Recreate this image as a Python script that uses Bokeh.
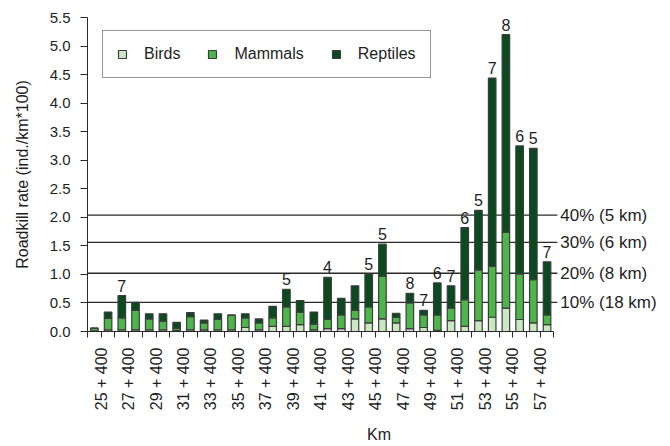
from bokeh.plotting import figure
from bokeh.models import (ColumnDataSource, Range1d, FixedTicker, PrintfTickFormatter,
                          Legend, LegendItem, LabelSet)
from bokeh.core.properties import value
from bokeh.embed import file_html
from bokeh.resources import INLINE

# ---------------- data ----------------
km_labels = ["25 + 400", "27 + 400", "29 + 400", "31 + 400", "33 + 400", "35 + 400",
             "37 + 400", "39 + 400", "41 + 400", "43 + 400", "45 + 400", "47 + 400",
             "49 + 400", "51 + 400", "53 + 400", "55 + 400", "57 + 400"]

birds = [0.01, 0.03, 0.03, 0.03, 0.03, 0.03, 0.02, 0.03, 0.03, 0.03, 0.03, 0.07,
         0.03, 0.09, 0.09, 0.12, 0.03, 0.05, 0.05, 0.22, 0.15, 0.22, 0.15, 0.05,
         0.07, 0.02, 0.19, 0.09, 0.19, 0.25, 0.41, 0.21, 0.15, 0.12]
mammals = [0.05, 0.20, 0.21, 0.34, 0.19, 0.15, 0.04, 0.23, 0.12, 0.18, 0.25, 0.17,
           0.12, 0.15, 0.34, 0.22, 0.10, 0.16, 0.24, 0.15, 0.28, 0.75, 0.10, 0.45,
           0.22, 0.27, 0.22, 0.47, 0.89, 0.89, 1.33, 0.80, 0.76, 0.17]
reptiles = [0.00, 0.11, 0.39, 0.14, 0.09, 0.13, 0.10, 0.07, 0.05, 0.10, 0.01, 0.07,
            0.07, 0.20, 0.31, 0.20, 0.21, 0.74, 0.29, 0.43, 0.58, 0.56, 0.07, 0.17,
            0.08, 0.56, 0.39, 1.26, 1.04, 3.30, 3.46, 2.24, 2.30, 0.93]

count_bar = [2, 14, 17, 20, 21, 23, 24, 25, 26, 27, 28, 29, 30, 31, 32, 33]
count_text = ["7", "5", "4", "5", "5", "8", "7", "6", "7", "6", "5", "7", "8", "6", "5", "7"]

threshold_values = [2.04, 1.56, 1.02, 0.51]
threshold_labels = ["40% (5 km)", "30% (6 km)", "20% (8 km)", "10% (18 km)"]

series_names = ["Birds", "Mammals", "Reptiles"]
colors = ["#c9e7c1", "#4cb64a", "#0b4a1e"]

FONT = "Liberation Sans"
TXT = "#1e1e1e"

n = len(birds)
xs = list(range(n))
src = ColumnDataSource(dict(x=xs, birds=birds, mammals=mammals, reptiles=reptiles))

x_lo = -0.5
x_line_end = n - 0.25  # reference lines run slightly past the last bar slot

p = figure(width=670, height=446, x_range=Range1d(x_lo, 42.0), y_range=Range1d(0, 5.5),
           output_backend="svg", toolbar_location=None,
           min_border_left=87, min_border_right=0, min_border_top=17, min_border_bottom=115)
p.outline_line_color = None
p.xgrid.grid_line_color = None
p.ygrid.grid_line_color = None
p.background_fill_color = "white"
p.border_fill_color = "white"

# threshold lines (behind bars)
tsrc = ColumnDataSource(dict(y=threshold_values, t=threshold_labels,
                             x0=[x_lo] * len(threshold_values),
                             x1=[x_line_end] * len(threshold_values)))
p.segment(x0="x0", y0="y", x1="x1", y1="y", source=tsrc, line_color="#2a2a2a", line_width=1.3)
p.add_layout(LabelSet(x="x1", y="y", text="t", source=tsrc, x_offset=3,
                      text_baseline="middle", text_align="left",
                      text_font=value(FONT), text_font_size=value("17px"),
                      text_color=TXT, level="overlay"))

rs = p.vbar_stack(["birds", "mammals", "reptiles"], x="x", width=0.55, color=colors,
                  line_color="#3c3c3c", line_width=1.2, source=src)

# counts above bars
tops = [birds[i] + mammals[i] + reptiles[i] for i in count_bar]
lsrc = ColumnDataSource(dict(x=count_bar, y=tops, t=count_text))
p.add_layout(LabelSet(x="x", y="y", text="t", source=lsrc, y_offset=4,
                      text_align="center", text_baseline="bottom",
                      text_font=value(FONT), text_font_size=value("16px"),
                      text_color=TXT, level="overlay"))

# legend
legend = Legend(items=[LegendItem(label=nm, renderers=[r]) for nm, r in zip(series_names, rs)],
                orientation="horizontal", location=(15, 253),
                label_text_font=FONT, label_text_font_size="16px", label_text_color=TXT,
                glyph_width=10, glyph_height=10, label_standoff=17, spacing=27,
                padding=14, margin=0, border_line_color="#2a2a2a", border_line_width=1,
                background_fill_color="white", background_fill_alpha=1.0)
p.add_layout(legend, "center")

# x axis
ticks = [i - 0.5 for i in range(n + 1)]
overrides = {t: "" for t in ticks}
for j, lab in enumerate(km_labels):
    overrides[0.5 + 2 * j] = lab
xa = p.xaxis[0]
xa.ticker = FixedTicker(ticks=ticks)
xa.major_label_overrides = overrides
xa.major_label_orientation = 3.14159265 / 2
xa.major_label_text_font = FONT
xa.major_label_text_font_size = "16px"
xa.major_label_text_color = TXT
xa.major_label_standoff = 10
xa.major_tick_in = 0
xa.major_tick_out = 6
xa.minor_tick_line_color = None
xa.axis_line_color = "#2a2a2a"
xa.major_tick_line_color = "#2a2a2a"
xa.bounds = (x_lo, n - 0.5)
xa.axis_label = "Km"
xa.axis_label_text_font = FONT
xa.axis_label_text_font_size = "16px"
xa.axis_label_text_font_style = "normal"
xa.axis_label_text_color = TXT
xa.axis_label_standoff = 13

# y axis
ya = p.yaxis[0]
ya.ticker = FixedTicker(ticks=[k * 0.5 for k in range(12)])
ya.formatter = PrintfTickFormatter(format="%.1f")
ya.major_label_text_font = FONT
ya.major_label_text_font_size = "15px"
ya.major_label_text_color = TXT
ya.major_label_standoff = 10
ya.major_tick_in = 0
ya.major_tick_out = 7
ya.minor_tick_line_color = None
ya.axis_line_color = "#2a2a2a"
ya.major_tick_line_color = "#2a2a2a"
ya.axis_label = "Roadkill rate (ind./km*100)"
ya.axis_label_text_font = FONT
ya.axis_label_text_font_size = "16px"
ya.axis_label_text_font_style = "normal"
ya.axis_label_text_color = TXT
ya.axis_label_standoff = 16

open("out.html", "w").write(file_html(p, INLINE))
